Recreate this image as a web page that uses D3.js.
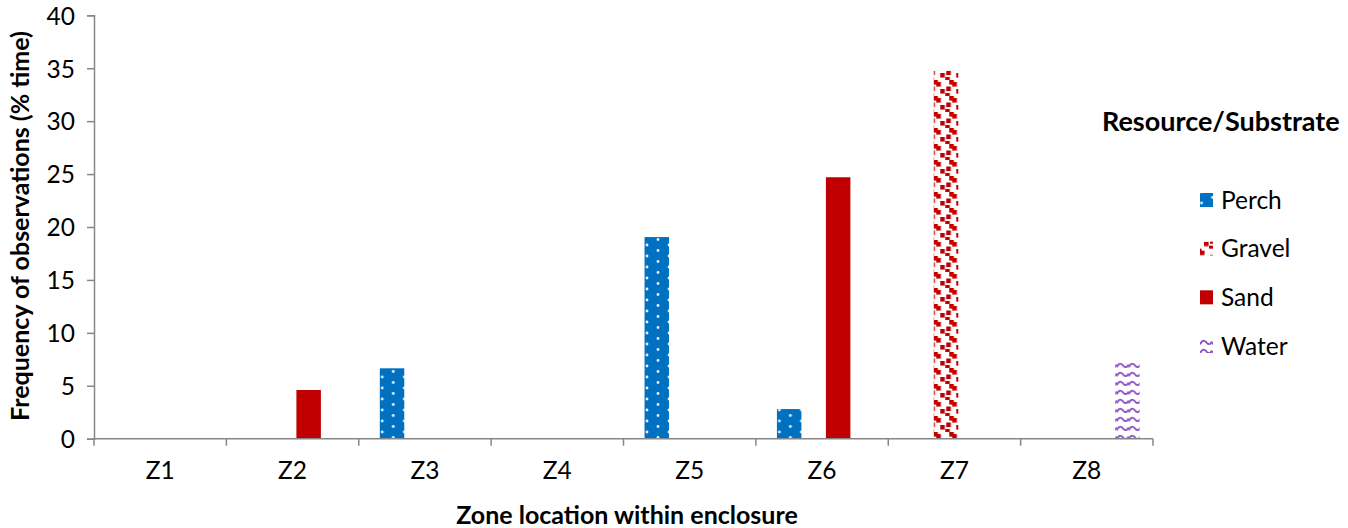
<!DOCTYPE html>
<html>
<head>
<meta charset="utf-8">
<script src="https://cdn.jsdelivr.net/npm/d3@7"></script>
<style>
  html, body { margin: 0; padding: 0; background: #fff; }
  svg { display: block; font-family: Lato, "Open Sans", sans-serif; }
</style>
</head>
<body>
<svg id="chart" width="1348" height="528"></svg>
<script>
// Zones and substrate series
const zones = ["Z1", "Z2", "Z3", "Z4", "Z5", "Z6", "Z7", "Z8"];
const seriesNames = ["Perch", "Gravel", "Sand", "Water"];
const perch  = [0, 0, 6.65, 0, 19.05, 2.8, 0, 0];
const gravel = [0, 0, 0, 0, 0, 0, 34.75, 0];
const sand   = [0, 4.6, 0, 0, 0, 24.7, 0, 0];
const water  = [0, 0, 0, 0, 0, 0, 0, 7.15];
const yTicks = [0, 5, 10, 15, 20, 25, 30, 35, 40];

const seriesValues = { Perch: perch, Gravel: gravel, Sand: sand, Water: water };

const svg = d3.select("#chart");
const margin = { left: 94, top: 15.3, bottom: 89.3 };
const H = 528;
const FS = 24.5;

const x0 = d3.scaleBand().domain(zones).range([margin.left, 1153]).padding(0);
const bw = x0.bandwidth();
const x1 = d3.scaleBand().domain(seriesNames)
  .range([bw * 0.159, bw * 0.159 + bw * 0.74]).padding(0);
const y = d3.scaleLinear().domain([0, 40]).range([H - margin.bottom, margin.top]);

// Fill patterns
const defs = svg.append("defs");

const pPerch = defs.append("pattern").attr("id", "pat-perch")
  .attr("patternUnits", "userSpaceOnUse").attr("width", 22).attr("height", 11)
  .attr("x", 1.5).attr("y", 3);
pPerch.append("rect").attr("width", 22).attr("height", 11).attr("fill", "#0070C0");
[[0, 0], [22, 0], [0, 11], [22, 11], [11, 5.5]].forEach(([cx, cy]) =>
  pPerch.append("circle").attr("cx", cx).attr("cy", cy).attr("r", 1.4)
    .attr("fill", "#e8f2fb"));

const pGravel = defs.append("pattern").attr("id", "pat-gravel")
  .attr("patternUnits", "userSpaceOnUse").attr("width", 16).attr("height", 16);
pGravel.append("rect").attr("width", 16).attr("height", 16).attr("fill", "#fff");
[[0, 2], [13, 0], [4, 9], [10, 6.5], [9, 13], [-3, 0], [13, 16], [-3, 16]].forEach(([sx, sy]) =>
  pGravel.append("rect").attr("x", sx).attr("y", sy).attr("width", 4.6).attr("height", 4.6)
    .attr("fill", "#C00000"));

const pWater = defs.append("pattern").attr("id", "pat-water")
  .attr("patternUnits", "userSpaceOnUse").attr("width", 12).attr("height", 9)
  .attr("y", 2);
pWater.append("rect").attr("width", 12).attr("height", 9).attr("fill", "#fff");
pWater.append("path")
  .attr("d", "M0,5.5 C2,1 4,1 6,3 C8,6 10,6 12,2.5")
  .attr("fill", "none").attr("stroke", "#8a4fc4").attr("stroke-width", 1.8);

const fills = {
  Perch: "url(#pat-perch)",
  Gravel: "url(#pat-gravel)",
  Sand: "#C00000",
  Water: "url(#pat-water)"
};

// Bars
const groups = svg.append("g").selectAll("g")
  .data(zones).join("g")
  .attr("transform", d => `translate(${x0(d)},0)`);

groups.selectAll("rect")
  .data((z, i) => seriesNames.map(s => ({ s, v: seriesValues[s][i] })))
  .join("rect")
  .filter(d => d.v > 0)
  .attr("x", d => x1(d.s))
  .attr("width", x1.bandwidth())
  .attr("y", d => y(d.v))
  .attr("height", d => y(0) - y(d.v))
  .attr("fill", d => fills[d.s]);

// Axes
const axisColor = "#868686";

const yAxis = svg.append("g")
  .attr("transform", `translate(${margin.left},0)`)
  .call(d3.axisLeft(y).tickValues(yTicks).tickSize(7).tickPadding(12));
yAxis.select(".domain").attr("stroke", axisColor).attr("stroke-width", 1.5);
yAxis.selectAll(".tick line").attr("stroke", axisColor).attr("stroke-width", 1.5);
yAxis.selectAll(".tick text").attr("font-size", FS).attr("fill", "#000")
  .attr("font-family", "Lato, sans-serif").attr("dy", "0.36em");

const xAxis = svg.append("g")
  .attr("transform", `translate(0,${y(0)})`);
xAxis.append("line")
  .attr("x1", margin.left).attr("x2", x0.range()[1])
  .attr("stroke", axisColor).attr("stroke-width", 1.5);
const bounds = zones.map(z => x0(z)).concat([x0.range()[1]]);
xAxis.selectAll("line.tk").data(bounds).join("line").attr("class", "tk")
  .attr("x1", d => d).attr("x2", d => d).attr("y1", 0).attr("y2", 7)
  .attr("stroke", axisColor).attr("stroke-width", 1.5);
xAxis.selectAll("text").data(zones).join("text")
  .attr("x", d => x0(d) + bw / 2).attr("y", 40)
  .attr("text-anchor", "middle").attr("font-size", FS).attr("fill", "#000")
  .text(d => d);

// Axis titles
svg.append("text")
  .attr("x", 627).attr("y", 524)
  .attr("text-anchor", "middle").attr("font-size", 25).attr("font-weight", "bold")
  .text("Zone location within enclosure");

svg.append("text")
  .attr("transform", `translate(29,226) rotate(-90)`)
  .attr("text-anchor", "middle").attr("font-size", 25).attr("font-weight", "bold")
  .text("Frequency of observations (% time)");

// Legend
const legend = svg.append("g");
legend.append("text")
  .attr("x", 1102).attr("y", 131)
  .attr("font-size", 27).attr("font-weight", "bold")
  .text("Resource/Substrate");

const legendY = d3.scalePoint().domain(seriesNames).range([200, 346]);
const items = legend.selectAll("g.item").data(seriesNames).join("g").attr("class", "item")
  .attr("transform", d => `translate(1200,${legendY(d)})`);
items.append("rect")
  .attr("x", 0).attr("y", -7).attr("width", 13).attr("height", 14)
  .attr("fill", d => fills[d]);
items.append("text")
  .attr("x", 21).attr("y", 8.8).attr("font-size", FS)
  .text(d => d);
</script>
</body>
</html>
